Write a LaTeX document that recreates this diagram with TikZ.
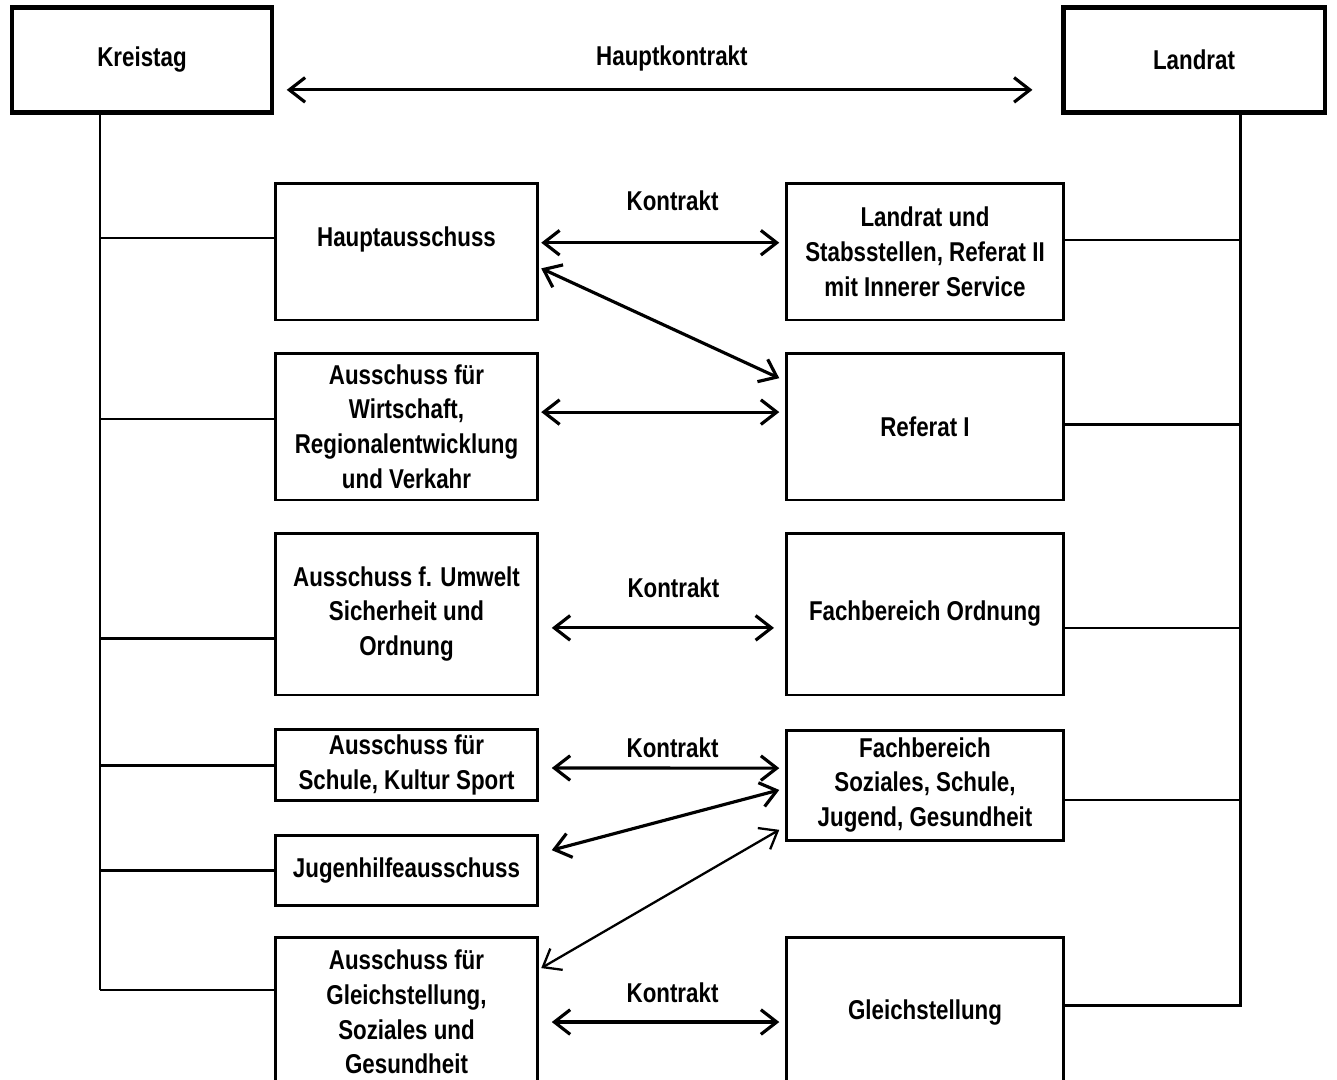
\documentclass[tikz,border=0pt]{standalone}
\usepackage{fontspec}
\setmainfont{Liberation Sans}[FakeStretch=0.82]
\usetikzlibrary{arrows.meta}

\begin{document}
\begin{tikzpicture}[x=0.02cm, y=-0.02cm,
        txt/.style={font=\bfseries\fontsize{15.5}{19.8}\selectfont},
        box/.style={txt, draw, line width=1.7pt, minimum width=5.26cm, align=center},
        wbox/.style={box, minimum width=5.56cm},
        head/.style={box, line width=2.8pt, minimum width=5.2cm, minimum height=2.1cm},
        con/.style={<->, line width=1.8pt, >={Straight Barb[length=9pt,width=14pt]}},
        tline/.style={line width=0.9pt},
        bline/.style={line width=1.7pt}]
    \useasboundingbox (0,0) rectangle (1337,1079);

    % top level
    \node[head] (KT) at (142,60) {Kreistag};
    \node[head, minimum width=5.24cm] (LR) at (1194,60) {Landrat};

    % committees (left) and departments (right)
    \node[box, minimum height=2.74cm, text depth=16.5pt] (HA) at (406.5,251.5) {Hauptausschuss};
    \node[wbox, minimum height=2.74cm] (LS) at (925,251.5)
        {Landrat und\\Stabsstellen, Referat II\\mit Innerer Service};
    \node[box, minimum height=2.94cm] (AW) at (406.5,426.5)
        {Ausschuss für\\Wirtschaft,\\Regionalentwicklung\\und Verkahr};
    \node[wbox, minimum height=2.94cm] (RI) at (925,426.5) {Referat I};
    \node[box, minimum height=3.24cm] (AU) at (406.5,614)
        {Ausschuss f. Umwelt\\Sicherheit und\\Ordnung};
    \node[wbox, minimum height=3.24cm] (FO) at (925,614) {Fachbereich Ordnung};
    \node[box, minimum height=1.4cm] (AS) at (406.5,765)
        {Ausschuss für\\Schule, Kultur Sport};
    \node[wbox, minimum height=2.2cm] (FS) at (925,785)
        {Fachbereich\\Soziales, Schule,\\Jugend, Gesundheit};
    \node[box, minimum height=1.4cm] (JH) at (406.5,870) {Jugenhilfeausschuss};
    \node[box, minimum height=3.0cm] (AG) at (406.5,1012)
        {Ausschuss für\\Gleichstellung,\\Soziales und\\Gesundheit};
    \node[wbox, minimum height=3.0cm] (GS) at (925,1012) {Gleichstellung};

    % trunks
    \coordinate (LB) at (100,990);
    \coordinate (RB) at (1240,1005);
    \draw[bline] (KT.south -| LB) -- (LB);
    \draw[tline] (LB) -- (AG.west |- LB);
    \draw[bline] (LR.south -| RB) -- (RB) -- (GS.east |- RB);
    \foreach \y/\n/\s in {238/HA/tline, 419/AW/tline, 638/AU/bline, 765/AS/bline, 870/JH/bline}
        \draw[\s] (LB |- 0,\y) -- (\n.west |- 0,\y);
    \foreach \y/\n/\s in {240/LS/tline, 424/RI/bline, 628/FO/tline, 800/FS/tline}
        \draw[\s] (\n.east |- 0,\y) -- (RB |- 0,\y);

    % contracts
    \draw[con] ([yshift=-17pt,xshift=7pt]KT.east) --
        node[txt, yshift=18pt, xshift=7pt] (HK) {Hauptkontrakt}
        ([yshift=-17pt,xshift=-16pt]LR.west);
    \draw[con] ([yshift=5pt,xshift=1pt]HA.east) --
        node[txt, yshift=24pt, xshift=7pt] (K1) {Kontrakt}
        ([yshift=5pt,xshift=-3pt]LS.west);
    \draw[con] ([yshift=-9.6pt,xshift=1pt]HA.east) -- ([yshift=27.5pt,xshift=-3pt]RI.west);
    \draw[con] ([yshift=8.2pt,xshift=1pt]AW.east) -- ([yshift=8.2pt,xshift=-3pt]RI.west);
    \draw[con] ([yshift=-7.9pt,xshift=7pt]AU.east) --
        node[txt, yshift=22.7pt, xshift=6pt] (K2) {Kontrakt}
        ([yshift=-7.9pt,xshift=-6pt]FO.west);
    \draw[con] ([yshift=-1.7pt,xshift=7pt]AS.east) --
        node[txt, yshift=11.3pt, xshift=4pt] (K3) {Kontrakt}
        ([yshift=9.6pt,xshift=-3pt]FS.west);
    \draw[con] ([yshift=11.3pt,xshift=7pt]JH.east) -- ([yshift=-2.8pt,xshift=-3pt]FS.west);
    \draw[con, line width=1.3pt] ([yshift=25pt,xshift=1pt]AG.east) -- ([yshift=-25.5pt,xshift=-3pt]FS.west);
    \draw[con] ([yshift=-5.7pt,xshift=7pt]AG.east) --
        node[txt, yshift=16.4pt, xshift=4pt] (K4) {Kontrakt}
        ([yshift=-5.7pt,xshift=-3pt]GS.west);
\end{tikzpicture}
\end{document}
